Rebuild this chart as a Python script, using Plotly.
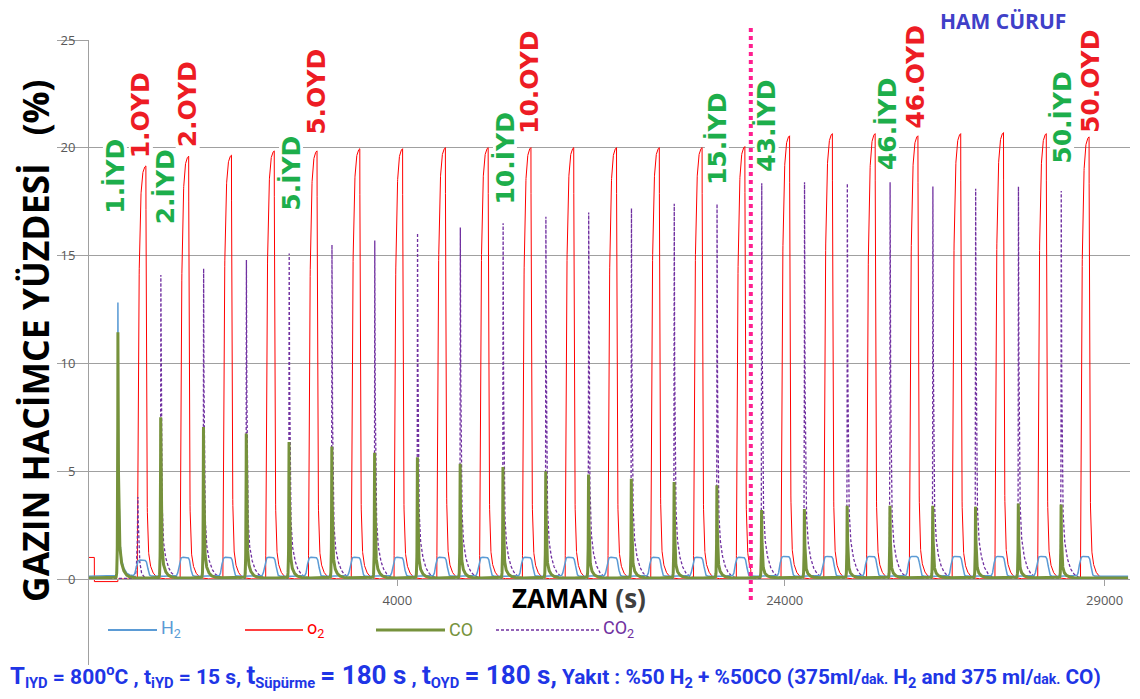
import numpy as np
import plotly.graph_objects as go

# ---------------- data ----------------
CYCLES = [1, 2, 3, 4, 5, 6, 7, 8, 9, 10, 11, 12, 13, 14, 15,
          43, 44, 45, 46, 47, 48, 49, 50]
# start of each reduction step (s)
T_RED = [375, 930, 1485, 2040, 2595, 3150, 3705, 4260, 4815, 5370, 5925, 6480,
         7035, 7590, 8145, 23700, 24255, 24810, 25365, 25920, 26475, 27030, 27585]
# peak values (% vol)
CO_PEAK = [11.4, 7.45, 7.0, 6.7, 6.3, 6.1, 5.8, 5.6, 5.3, 5.15, 4.95, 4.8,
           4.6, 4.45, 4.3, 3.15, 3.2, 3.35, 3.35, 3.35, 3.3, 3.45, 3.4]
CO2_PEAK = [0.0, 14.1, 14.4, 14.8, 15.1, 15.5, 15.7, 16.05, 16.3, 16.5, 16.8, 17.0,
            17.2, 17.4, 17.4, 18.35, 18.4, 18.35, 18.4, 18.2, 18.1, 18.2, 18.0]
O2_PEAK = [19.2, 19.65, 19.7, 19.9, 19.9, 20.0, 20.0, 20.05, 20.05, 20.05, 20.05, 20.05,
           20.05, 20.05, 20.1, 20.6, 20.7, 20.7, 20.6, 20.7, 20.75, 20.7, 20.55]
H2_SPIKE = [12.7, 0.0, 0.0, 0.0, 0.0, 0.0, 0.0, 0.0, 0.0, 0.0, 0.0, 0.0,
            0.0, 0.0, 0.0, 0.0, 0.0, 0.0, 0.0, 0.0, 0.0, 0.0, 0.0]
H2_HUMP = [0.75, 0.88, 0.88, 0.88, 0.88, 0.88, 0.88, 0.88, 0.88, 0.88, 0.88, 0.88,
           0.88, 0.88, 0.88, 0.92, 0.92, 0.92, 0.92, 0.92, 0.92, 0.92, 0.92]
CO2_BURN_T = [634]      # CO2 burn-off during first oxidation
CO2_BURN = [3.8]
O2_START = 1.0          # O2 reading at the very start
H2_BASE, CO_BASE = 0.13, 0.05

# time axis (s) – the axis is broken between CUT_LEFT and CUT_RIGHT
CUT_LEFT, CUT_RIGHT, T_END = 8585, 23560, 28454
XTICK_REAL = [4000, 24000, 28150]
XTICK_TEXT = ["4000", "24000", "29000"]
YTICKS = [0, 5, 10, 15, 20, 25]

IYD_LABELS = [1, 2, 5, 10, 15, 43, 46, 50]
OYD_LABELS = [1, 2, 5, 10, 46, 50]

# ---------------- layout geometry ----------------
# page has an 8px body margin -> figure is 1132x691 and starts at (8, 8)
W, H = 1132, 691
PAGE_PLOT_L, PAGE_PLOT_R, PAGE_PLOT_T, PAGE_PLOT_B = 89, 1130, 40, 665
ML, MT = PAGE_PLOT_L - 8, PAGE_PLOT_T - 8
MR = W - (PAGE_PLOT_R - 8)
MB = H - (PAGE_PLOT_B - 8)
PW, PH = PAGE_PLOT_R - PAGE_PLOT_L, PAGE_PLOT_B - PAGE_PLOT_T
GAP = CUT_RIGHT - CUT_LEFT


def disp(t):
    t = np.asarray(t, dtype=float)
    return np.where(t <= CUT_LEFT, t, t - GAP)


XMAX = float(disp(T_END)) + 25


def px(x):
    return (x - PAGE_PLOT_L) / PW


def py(y):
    return (PAGE_PLOT_B - y) / PH


# ---------------- curves ----------------
t = np.concatenate([np.arange(0, CUT_LEFT + 1, 1.0), np.arange(CUT_RIGHT, T_END + 1, 1.0)])


def spike(t0, peak, tr, t1, t2, f1):
    dt = t - t0
    out = np.zeros_like(t)
    m = dt < 0
    out[m] = peak * np.exp(np.maximum(dt[m], -200) / tr)
    m = ~m
    out[m] = peak * (f1 * np.exp(-dt[m] / t1) + (1 - f1) * np.exp(-dt[m] / t2))
    return out


def o2_pulse(t0, peak):
    r, f, tau = t0 + 252, t0 + 363, 18.0
    out = np.zeros_like(t)
    m = (t >= r) & (t < f)
    out[m] = peak * (1 - np.exp(-(t[m] - r) / tau))
    hf = peak * (1 - np.exp(-(f - r) / tau))
    m = t >= f
    dt = t[m] - f
    out[m] = hf * (0.88 * np.exp(-dt / 8) + 0.12 * np.exp(-dt / 45))
    return out


def hump(t0, h):
    a, b = t0 + 235, t0 + 388
    return h / (1 + np.exp(-(t - a) / 9)) / (1 + np.exp((t - b) / 9))


co = np.full_like(t, CO_BASE)
co2 = np.zeros_like(t)
h2 = np.full_like(t, H2_BASE)
o2 = np.where(t < 70, O2_START, np.where(t < T_RED[0], -0.12, 0.0))
for i, t0 in enumerate(T_RED):
    co += spike(t0, CO_PEAK[i], 4, 7, 40, 0.8)
    co2 += spike(t0 + 2, CO2_PEAK[i], 3, 8, 60, 0.8)
    h2 += spike(t0, H2_SPIKE[i], 4, 7, 40, 0.8) + hump(t0, H2_HUMP[i])
    o2 += o2_pulse(t0, O2_PEAK[i])
for tb, pb in zip(CO2_BURN_T, CO2_BURN):
    co2 += spike(tb, pb, 10, 12, 40, 0.8)

x = disp(t)

C_H2, C_O2, C_CO, C_CO2 = "#5B9BD5", "#FF0000", "#76923C", "#7030A0"

fig = go.Figure()
fig.add_trace(go.Scatter(x=x, y=o2, mode="lines", line=dict(color=C_O2, width=1), name="O2"))
fig.add_trace(go.Scatter(x=x, y=co2, mode="lines", line=dict(color=C_CO2, width=1.3, dash="3px,2px"), name="CO2"))
fig.add_trace(go.Scatter(x=x, y=h2, mode="lines", line=dict(color=C_H2, width=1.5), name="H2"))
fig.add_trace(go.Scatter(x=x, y=co, mode="lines", line=dict(color=C_CO, width=3), name="CO"))

# ---------------- annotations ----------------
ann = []
shapes = []
LBL_FONT = "DejaVu Sans"
LBL_SIZE = 25


def add_label(c, yv, dx, kind, color, extra):
    t0 = T_RED[CYCLES.index(c)]
    txt = f"{c}.{kind}"
    xd = float(disp(t0))
    ann.append(dict(x=xd, y=yv, xref="x", yref="y", text=f"<b>{txt}</b>", textangle=-90,
                    xanchor="center", yanchor="middle", showarrow=False, xshift=dx,
                    font=dict(family=LBL_FONT, size=LBL_SIZE, color=color)))
    half = (18 * len(txt) - 13 + extra) / 2
    shapes.append(dict(type="rect", xref="x", yref="y", xsizemode="pixel", ysizemode="pixel",
                       xanchor=xd, yanchor=yv, x0=dx - 12, x1=dx + 12, y0=-half, y1=half,
                       fillcolor="white", line=dict(width=0), layer="between"))


iyd_y = [18.7, 18.2, 18.8, 19.5, 20.4, 21.0, 21.1, 21.4]
iyd_dx = [-3, 4, 2, 2, 0, 5, -3, 1]
for c, yv, dx in zip(IYD_LABELS, iyd_y, iyd_dx):
    add_label(c, yv, dx, "İYD", "#1DAE4B", 0)
oyd_y = [21.5, 22.0, 22.6, 23.05, 23.3, 23.1]
oyd_dx = [23, 27, 28, 26, 26, 30]
for c, yv, dx in zip(OYD_LABELS, oyd_y, oyd_dx):
    add_label(c, yv, dx, "OYD", "#ED1C24", 10)

ann.append(dict(x=px(1003), y=py(21), xref="paper", yref="paper", text="<b>HAM CÜRUF</b>",
                xanchor="center", yanchor="middle",
                showarrow=False, font=dict(family="Open Sans", size=21, color="#4040C8")))
ann.append(dict(x=px(35), y=py(341), xref="paper", yref="paper",
                text="<b>GAZIN HACİMCE YÜZDESİ&nbsp;&nbsp;&nbsp;(%)</b>", textangle=-90,
                xanchor="center", yanchor="middle",
                showarrow=False, font=dict(family="Open Sans", size=35.5, color="black")))
ann.append(dict(x=px(579), y=py(598), xref="paper", yref="paper",
                text="<b>ZAMAN <span style='color:#404040'>(s)</span></b>",
                xanchor="center", yanchor="middle",
                showarrow=False, font=dict(family="Open Sans", size=26, color="black")))

NARROW = "Roboto"
leg = [(108, 157, C_H2, "H<sub>2</sub>", None, 2),
       (245, 303, C_O2, "o<sub>2</sub>", None, 1.5),
       (376, 445, C_CO, "CO", None, 3),
       (496, 599, C_CO2, "CO<sub>2</sub>", "3px,2px", 1.5)]
for x0, x1, col, txt, dash, wd in leg:
    shapes.append(dict(type="line", xref="paper", yref="paper", x0=px(x0), x1=px(x1),
                       y0=py(630), y1=py(630), line=dict(color=col, width=wd, dash=dash)))
    ann.append(dict(x=px(x1 + 2), y=py(629), xref="paper", yref="paper", text=txt,
                    xanchor="left", yanchor="middle", showarrow=False,
                    font=dict(family=NARROW, size=18, color=col)))

BIG = "font-size:26px"
SM = "font-size:20.8px"
TINY = "font-size:14px"
foot = ("<b><span style='font-size:24px'>T</span><sub>IYD</sub> = 800<sup>o</sup>C , "
        f"t<sub>iYD</sub> = 15 s, <span style='{BIG}'>t</span><sub>Süpürme</sub> "
        f"<span style='{BIG}'>= 180 s</span> , <span style='{BIG}'>t</span><sub>OYD</sub> "
        f"<span style='{BIG}'>= 180 s,</span> "
        f"<span style='{SM}'>Yakıt : %50 H<sub>2</sub> + %50CO (375ml/</span>"
        f"<span style='{TINY}'>dak.</span><span style='{SM}'> H<sub>2</sub> and 375 ml/</span>"
        f"<span style='{TINY}'>dak.</span><span style='{SM}'> CO)</span></b>")
ann.append(dict(x=px(8), y=py(676), xref="paper", yref="paper", text=foot, xanchor="left",
                yanchor="middle", showarrow=False, font=dict(family=NARROW, size=21, color="#2035E6")))

# break marker
xcut = float(disp(CUT_LEFT)) / XMAX
shapes.append(dict(type="line", xref="paper", yref="paper", x0=xcut, x1=xcut,
                   y0=py(600), y1=py(25), line=dict(color="#FF1F8F", width=4, dash="dot")))

fig.update_layout(
    width=W, height=H, margin=dict(l=ML, r=MR, t=MT, b=MB, autoexpand=False),
    paper_bgcolor="white", plot_bgcolor="white", showlegend=False,
    font=dict(family="Open Sans", color="#595959"),
    annotations=ann, shapes=shapes,
    xaxis=dict(range=[0, XMAX], anchor="free", position=py(579), automargin=False,
               showline=True, linecolor="#A0A0A0", ticks="outside", ticklen=6, tickcolor="#A0A0A0",
               ticklabelstandoff=3,
               tickvals=[float(v) for v in disp(XTICK_REAL)], ticktext=XTICK_TEXT,
               showgrid=False, zeroline=False, tickfont=dict(size=13, color="#595959")),
    yaxis=dict(range=[(579 - PAGE_PLOT_B) / 21.56, 25], tickvals=YTICKS, showgrid=True, gridcolor="#A0A0A0",
               showline=True, linecolor="#A0A0A0", ticks="outside", ticklen=31, tickcolor="#A0A0A0",
               automargin=False, ticklabelstandoff=-21, zeroline=False,
               tickfont=dict(size=13, color="#595959")),
)

fig.write_html("out.html")
